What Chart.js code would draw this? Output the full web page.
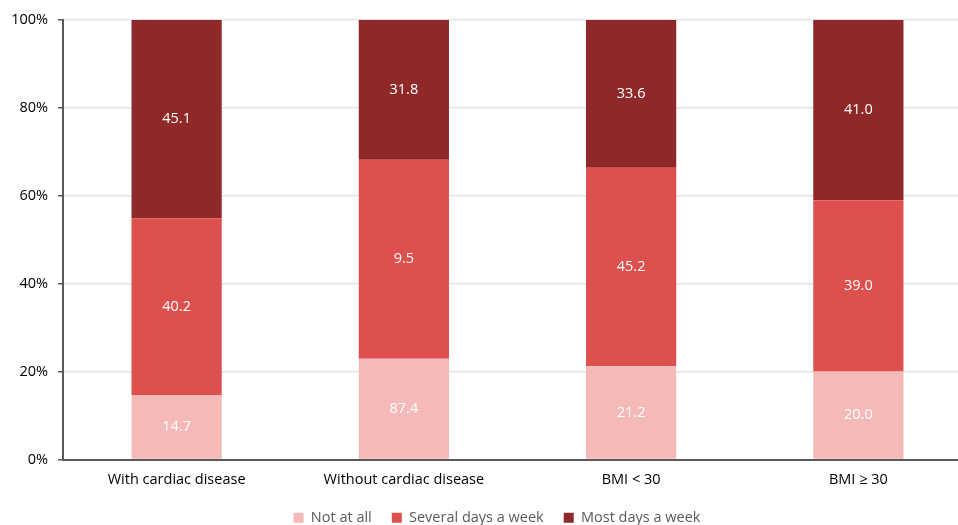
<!DOCTYPE html>
<html>
<head>
<meta charset="utf-8">
<script src="https://cdn.jsdelivr.net/npm/chart.js@4.4.1/dist/chart.umd.min.js"></script>
<style>
  html, body { margin: 0; padding: 0; background: #fff; overflow: hidden; }
  #wrap { width: 972px; height: 525px; }
</style>
</head>
<body>
<div id="wrap"><canvas id="c"></canvas></div>
<script>
const categories = ['With cardiac disease', 'Without cardiac disease', 'BMI < 30', 'BMI \u2265 30'];
const seriesNames = ['Not at all', 'Several days a week', 'Most days a week'];
// segment heights as drawn (percent)
const notAtAll = [14.7, 22.9, 21.2, 20.0];
const severalDays = [40.2, 45.3, 45.2, 39.0];
const mostDays = [45.1, 31.8, 33.6, 41.0];
// labels as printed inside the segments
const notAtAllLabels = ['14.7', '87.4', '21.2', '20.0'];
const severalDaysLabels = ['40.2', '9.5', '45.2', '39.0'];
const mostDaysLabels = ['45.1', '31.8', '33.6', '41.0'];
const yTicks = [0, 20, 40, 60, 80, 100];

const colors = ['#F5B9B8', '#DE504E', '#8F2828'];
const FONT = '"Open Sans", "Noto Sans", sans-serif';
const FS = 14.5;

const segLabels = {
    id: 'segLabels',
    afterDatasetsDraw(chart) {
        const ctx = chart.ctx;
        ctx.save();
        ctx.font = FS + 'px ' + FONT;
        ctx.fillStyle = '#ffffff';
        ctx.textAlign = 'center';
        ctx.textBaseline = 'middle';
        chart.data.datasets.forEach((ds, i) => {
            chart.getDatasetMeta(i).data.forEach((bar, j) => {
                const mid = (bar.y + bar.base) / 2;
                ctx.fillText(ds.printed[j], bar.x, mid);
            });
        });
        ctx.restore();
    }
};

// the legend sits a little right of the canvas centre in the original
const legendShift = {
    id: 'legendShift',
    afterLayout(chart) {
        if (chart.legend) {
            chart.legend.left += 11;
            chart.legend.right += 11;
        }
    }
};

const ctx = document.getElementById('c').getContext('2d');
const chart = new Chart(ctx, {
    type: 'bar',
    data: {
        labels: categories,
        datasets: [
            { label: seriesNames[0], data: notAtAll, printed: notAtAllLabels, backgroundColor: colors[0] },
            { label: seriesNames[1], data: severalDays, printed: severalDaysLabels, backgroundColor: colors[1] },
            { label: seriesNames[2], data: mostDays, printed: mostDaysLabels, backgroundColor: colors[2] }
        ]
    },
    options: {
        responsive: true,
        maintainAspectRatio: false,
        animation: false,
        datasets: {
            bar: { categoryPercentage: 1, barPercentage: 0.397, borderWidth: 0 }
        },
        layout: { padding: { top: 20, left: 0, right: 0, bottom: -10 } },
        scales: {
            x: {
                stacked: true,
                grid: { display: false, drawTicks: false },
                border: { display: true, color: '#595959', width: 2 },
                ticks: { color: '#000', font: { family: FONT, size: FS }, padding: 12, maxRotation: 0 },
                afterFit(scale) { scale.height = 31; }
            },
            y: {
                stacked: true,
                min: 0,
                max: 100,
                afterBuildTicks(scale) { scale.ticks = yTicks.map(v => ({ value: v })); },
                grid: { color: '#E3E3E3', lineWidth: 1.5, tickLength: 5, tickColor: '#595959' },
                border: { display: true, color: '#595959', width: 2 },
                ticks: {
                    color: '#000',
                    font: { family: FONT, size: FS },
                    padding: 10,
                    callback: v => v + '%'
                },
                afterFit(scale) { scale.width = 63; }
            }
        },
        plugins: {
            legend: {
                position: 'bottom',
                labels: {
                    color: '#595959',
                    font: { family: FONT, size: FS },
                    boxWidth: 10,
                    boxHeight: 10,
                    padding: 20,
                    useBorderRadius: false
                }
            },
            tooltip: { enabled: false }
        }
    },
    plugins: [segLabels, legendShift]
});
</script>
</body>
</html>
